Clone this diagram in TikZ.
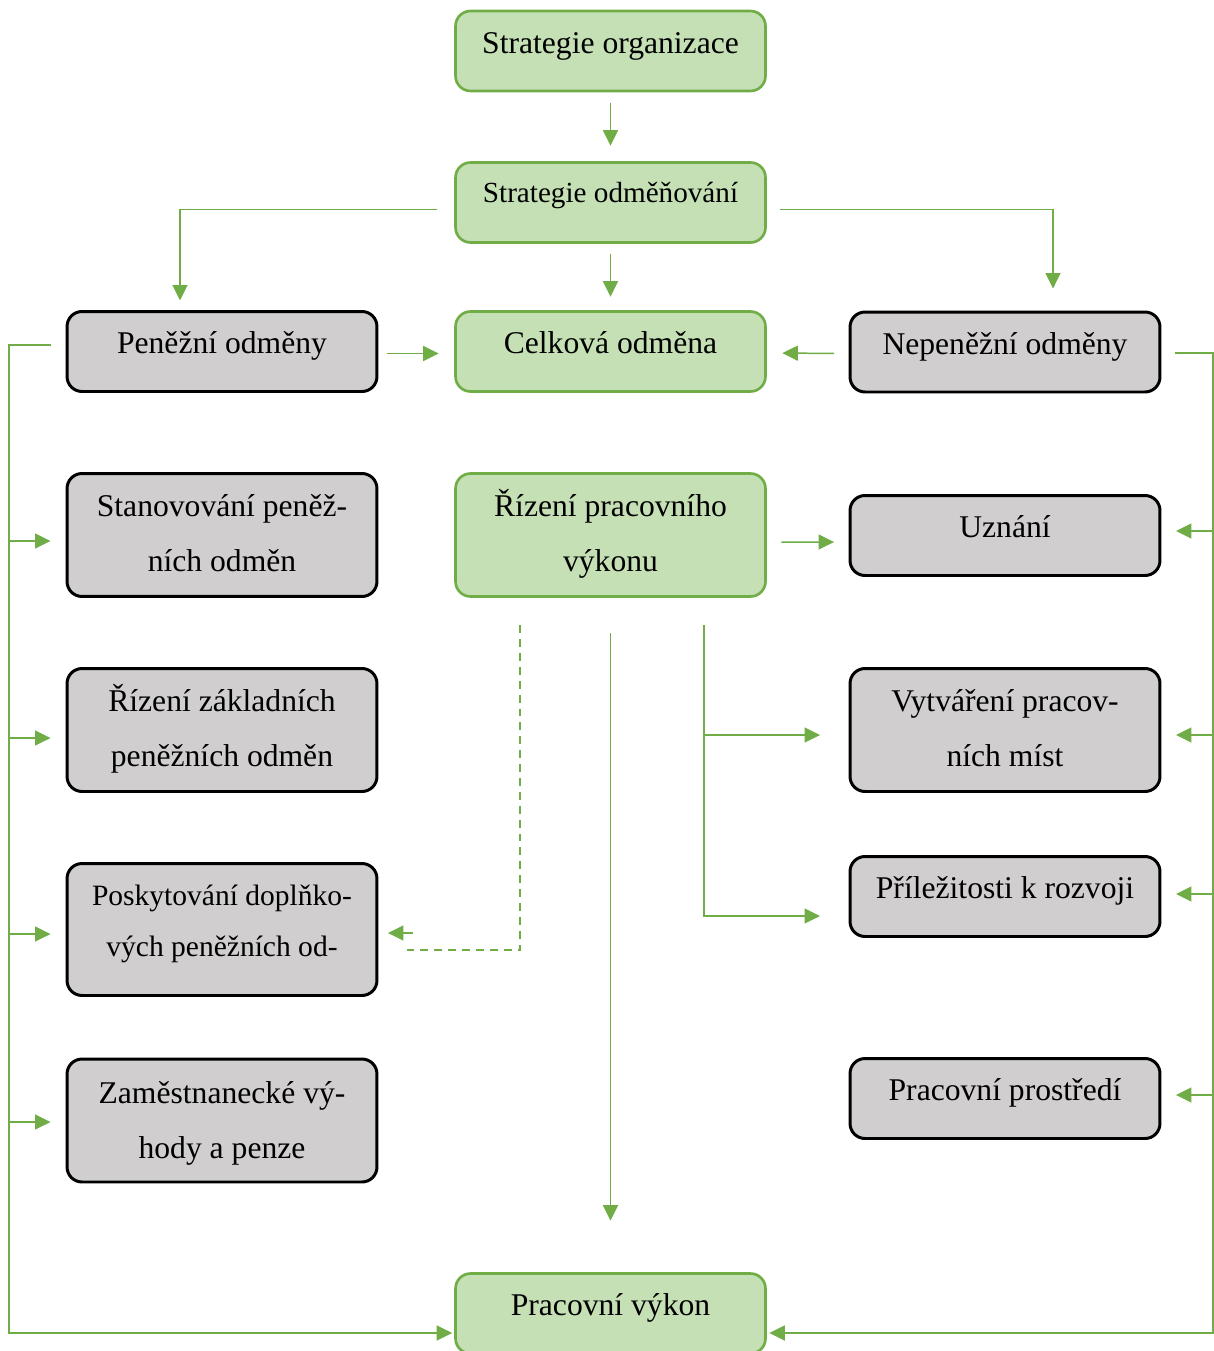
\documentclass[tikz,border=0pt]{standalone}
\usepackage{fontspec}
\setmainfont{Liberation Serif}
\usepackage{tikz}
\usetikzlibrary{arrows.meta,calc,positioning}

\definecolor{zelena}{HTML}{70AD47}
\definecolor{svzelena}{HTML}{C5E0B4}
\definecolor{seda}{HTML}{D0CECE}

\tikzset{
	box/.style={rectangle,rounded corners=0.3cm,minimum width=6.2cm,minimum height=1.6cm,inner sep=2pt,align=center,font=\fontsize{18}{31.3}\selectfont,text height=12pt,text depth=9.7pt},
	zbox/.style={box,draw=zelena,fill=svzelena,line width=1.5pt},
	sbox/.style={box,draw=black,fill=seda,line width=1.7pt},
	two/.style={minimum height=2.46cm,text height=44pt,text depth=2pt},
	spoj/.style={draw=zelena,line width=0.85pt},
	conn/.style={spoj,-{Triangle[length=0.31cm,width=0.3cm]}}
}

\begin{document}
\begin{tikzpicture}[x=0.02cm,y=-0.02cm]
		\useasboundingbox (0,0) rectangle (1213,1351);
		% stred
		\node[zbox] (org) at (610.5,51) {Strategie organizace};
		\node[zbox,font=\fontsize{16.6}{28}\selectfont,text height=10pt,text depth=10pt] (odm) at (610.5,202.5) {Strategie odměňování};
		\node[zbox] (celk) at (610.5,351.5) {Celková odměna};
		\node[zbox,two] (rizeni) at (610.5,535) {Řízení pracovního\\výkonu};
		\node[zbox] (vykon) at (610.5,1313.5) {Pracovní výkon};
		% penezni
		\node[sbox] (pen) at (222,351.5) {Peněžní odměny};
		\node[sbox,two] (stan) at (222,535) {Stanovování peněž-\\ních odměn};
		\node[sbox,two] (zakl) at (222,730) {Řízení základních\\peněžních odměn};
		\node[sbox,minimum height=2.64cm,font=\fontsize{16.8}{29}\selectfont,text height=32pt,text depth=1.8pt] (posk) at (222,929.5) {Poskytování doplňko-\\vých peněžních od-};
		\node[sbox,two,text height=45pt] (zam) at (222,1120.5) {Zaměstnanecké vý-\\hody a penze};
		% nepenezni
		\node[sbox] (nepen) at (1005,352) {Nepeněžní odměny};
		\node[sbox] (uzn) at (1005,535.5) {Uznání};
		\node[sbox,two] (vytv) at (1005,730) {Vytváření pracov-\\ních míst};
		\node[sbox] (pril) at (1005,896.5) {Příležitosti k rozvoji};
		\node[sbox] (prost) at (1005,1098.5) {Pracovní prostředí};

		\draw[conn,shorten <=0.21cm,shorten >=0.31cm] (org) -- (odm);
		\draw[conn,shorten <=0.21cm,shorten >=0.27cm] (odm) -- (celk);
		\draw[conn,shorten >=0.19cm] ([shift={(-17,7)}]odm.west) -| ([shift={(-42,0)}]pen.north);
		\draw[conn,shorten >=0.44cm] ([shift={(13,7)}]odm.east) -| ([shift={(48,0)}]nepen.north);
		\draw[conn,shorten <=0.18cm,shorten >=0.31cm] ([shift={(0,2)}]pen.east) -- ([shift={(0,2)}]celk.west);
		\draw[conn,shorten <=0.29cm,shorten >=0.31cm] ([shift={(0,1.5)}]nepen.west) -- ([shift={(0,1.5)}]celk.east);

		\draw[conn,shorten >=0.04cm] ([shift={(-15,-6.5)}]pen.west) -- ++(-41.5,0) |- ([shift={(0,19.5)}]vykon.west);
		\foreach \n/\d in {stan/6,zakl/8,posk/4.5,zam/1.5}
			\draw[conn,shorten >=0.3cm] ([shift={(-56.5,\d)}]\n.west) -- ([shift={(0,\d)}]\n.west);
		\draw[conn,shorten >=0.05cm] ([shift={(13.5,1)}]nepen.east) -- ++(38,0) |- ([shift={(0,19.5)}]vykon.east);
		\foreach \n/\d in {uzn/-4.5,vytv/5,pril/-2.5,prost/-3.5}
			\draw[conn,shorten >=0.29cm] ([shift={(51.5,\d)}]\n.east) -- ([shift={(0,\d)}]\n.east);

		\draw[conn,shorten <=0.29cm,shorten >=0.29cm] ([shift={(0,7)}]rizeni.east) -- ([shift={(0,6.5)}]uzn.west);
		\draw[conn,shorten <=0.71cm,shorten >=1.03cm] (rizeni) -- (vykon);
		\draw[spoj,dash pattern=on 4.5pt off 3.4pt] ([shift={(-90.5,27.5)}]rizeni.south) |- ([shift={(28.5,20.5)}]posk.east);
		\draw[conn] ([shift={(34.5,3.5)}]posk.east) -- ([shift={(9.5,3.5)}]posk.east);
		\draw[conn,shorten >=0.57cm] ([shift={(93.5,27.5)}]rizeni.south) |- ([shift={(0,5)}]vytv.west);
		\draw[conn,shorten >=0.57cm] ([shift={(93.5,27.5)}]rizeni.south) |- ([shift={(0,19.5)}]pril.west);
	\end{tikzpicture}
\end{document}
